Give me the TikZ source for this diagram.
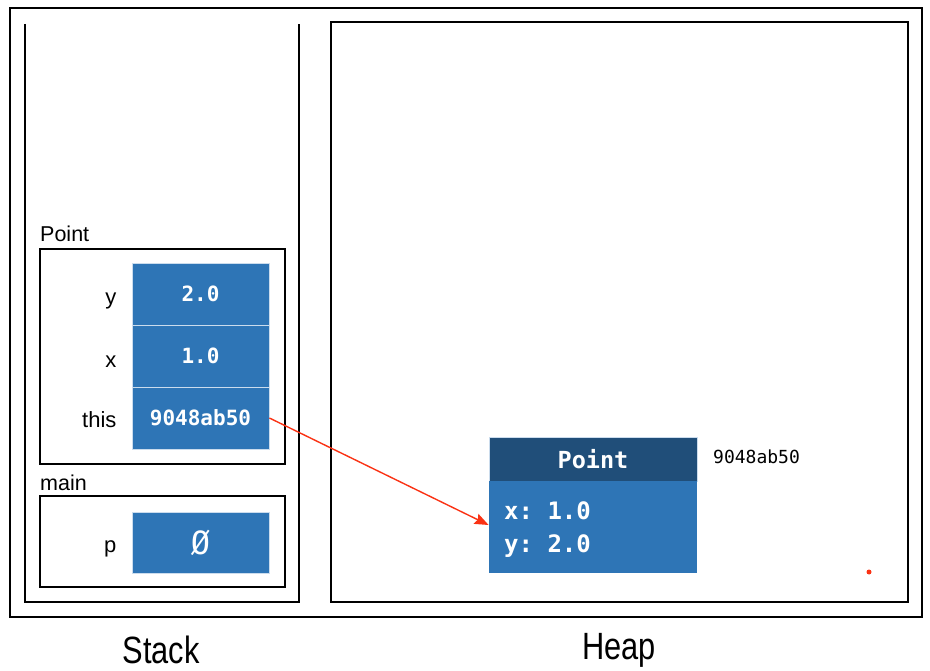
\documentclass[tikz,border=0pt]{standalone}
\usepackage{fontspec}
\setmainfont{Liberation Sans}
\newfontfamily\titlefont{Liberation Sans}[FakeStretch=0.81]
\setmonofont{DejaVu Sans Mono}
\usepackage{tikz}
\usetikzlibrary{positioning,arrows.meta}

\definecolor{cellblue}{RGB}{46,117,182}
\definecolor{headblue}{RGB}{32,78,121}
\definecolor{ptrred}{RGB}{250,50,20}

\begin{document}
\begin{tikzpicture}
[x=1pt,y=-1pt,
frame/.style={draw=black,line width=1.6pt},
cell/.style={rectangle,minimum width=137pt,minimum height=62pt,inner sep=0pt,fill=cellblue,draw=white!75!cellblue,line width=0.8pt,text=white,font=\ttfamily\bfseries\fontsize{21}{24}\selectfont},
lbl/.style={inner sep=0pt,anchor=base east,font=\fontsize{22}{26}\selectfont},
flbl/.style={inner sep=0pt,anchor=base west,font=\fontsize{21.5}{26}\selectfont},
title/.style={inner sep=0pt,font=\titlefont\fontsize{38}{42}\selectfont},
ptr/.style={->,>={Stealth[length=14pt,width=11pt,inset=2pt]},draw=ptrred,line width=1.4pt},
]
\useasboundingbox (0,0) rectangle (930,671);

% frames
\draw[frame] (10,8) rectangle (922,617);
\draw[frame] (25,24) -- (25,602) -- (299,602) -- (299,24);
\draw[frame] (331,22) rectangle (908,602);

% stack frames
\draw[frame] (40,249) rectangle (285,464);
\draw[frame] (40,496) rectangle (285,587);
\node[flbl] (fpoint) at (40,242) {Point};
\node[flbl] (fmain) at (40,490) {main};

% stack cells
\node[cell] (cy) at (200.5,294) {2.0};
\node[cell] (cx) at (200.5,356) {1.0};
\node[cell] (cthis) at (200.5,418) {9048ab50};
\node[cell,minimum height=61pt,font=\ttfamily\fontsize{32}{34}\selectfont] (cp) at (200.5,542.5) {Ø};
\node[lbl] (ly) at ([xshift=-15pt,yshift=-11pt]cy.west) {y};
\node[lbl] (lx) at ([xshift=-15pt,yshift=-11pt]cx.west) {x};
\node[lbl] (lthis) at ([xshift=-15pt,yshift=-10pt]cthis.west) {this};
\node[lbl] (lp) at ([xshift=-15pt,yshift=-10pt]cp.west) {p};

% heap object
\node[cell,minimum width=208pt,minimum height=44pt,fill=headblue,font=\ttfamily\bfseries\fontsize{23.5}{26}\selectfont] (ohead) at (593,459) {Point};
\node[cell,minimum width=208pt,minimum height=92pt,draw=none] (obody) at (593,527) {};
\node[anchor=west,inner sep=0pt,align=left,text=white,font=\ttfamily\bfseries\fontsize{24}{33}\selectfont] (ofields) at (504,530) {x: 1.0\\y: 2.0};
\node[anchor=west,inner sep=0pt,font=\ttfamily\fontsize{18}{20}\selectfont] (oaddr) at (713,457) {9048ab50};

\draw[ptr] (cthis.east) -- ([yshift=2pt]obody.west);
\fill[ptrred] (869,572) circle (2.5pt);

% titles
\node[title] (tstack) at (161,650) {Stack};
\node[title] (theap) at (619,650) {Heap};
\end{tikzpicture}
\end{document}
